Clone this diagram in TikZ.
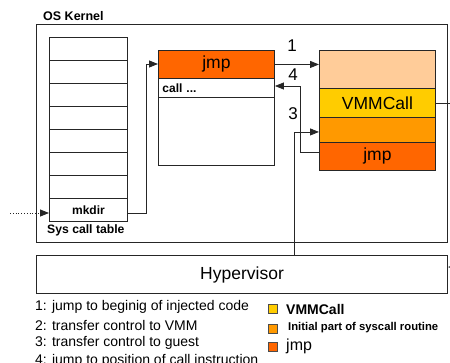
\documentclass[tikz,border=0pt]{standalone}
\usepackage{fontspec}
\setmainfont{Liberation Sans}
\usetikzlibrary{arrows.meta}
\definecolor{cpeach}{HTML}{FFCC99}
\definecolor{cyel}{HTML}{FFCC00}
\definecolor{corg}{HTML}{FF9900}
\definecolor{cred}{HTML}{FF6600}
\tikzset{
  bigbox/.style={draw=black!85, line width=1.1pt, anchor=north west, inner sep=0pt},
  cell/.style={draw=black!85, line width=0.9pt, anchor=north west, inner sep=0pt, minimum width=#1},
  cell/.default=116pt,
  arr/.style={draw=black!85, line width=0.8pt, -{Triangle[length=9pt,width=7pt]}},
  lbl/.style={font=\fontsize{17}{19}\selectfont},
  legtxt/.style={anchor=west, inner sep=0pt, font=\fontsize{14}{16}\selectfont},
  legbox/.style={draw=black!70, line width=0.6pt, minimum width=9pt, minimum height=9pt, inner sep=0pt, anchor=north west}
}
\begin{document}
\begin{tikzpicture}[x=1pt,y=-1pt]
\useasboundingbox (0,0) rectangle (450,362);
% OS kernel
\node[bigbox, minimum width=411pt, minimum height=218pt] (kern) at (36,24) {};
\node[anchor=west, inner sep=0pt, font=\bfseries\fontsize{12.5}{14}\selectfont] (kl) at (43,16) {OS Kernel};
% sys call table
\foreach \i in {0,...,6} {
  \node[cell=78pt, minimum height=23pt] (r\i) at (49,{37+23*\i}) {};
}
\node[cell=78pt, minimum height=23pt, font=\bfseries\fontsize{12}{14}\selectfont] (r7) at (49,198) {mkdir};
\node[anchor=west, inner sep=0pt, font=\bfseries\fontsize{12.2}{14}\selectfont] (sct) at (47,230) {Sys call table};
% middle box
\node[cell, minimum height=28pt, fill=cred, font=\fontsize{17.5}{19}\selectfont] (hj) at (158,50) {jmp};
\node[cell, minimum height=19pt, font=\bfseries\fontsize{12}{14}\selectfont, text width=108pt, align=left] (mc) at (158,78) {call ...};
\node[cell, minimum height=68pt] (mb) at (158,97) {};
% right box
\node[cell, minimum height=38pt, fill=cpeach] (rp) at (319,50) {};
\node[cell, minimum height=29pt, fill=cyel, font=\fontsize{17.5}{19}\selectfont] (rv) at (319,88) {VMMCall};
\node[cell, minimum height=25pt, fill=corg] (ro) at (319,117) {};
\node[cell, minimum height=28pt, fill=cred, font=\fontsize{17.5}{19}\selectfont] (rj) at (319,142) {jmp};
% hypervisor
\node[bigbox, minimum width=411pt, minimum height=38pt, font=\fontsize{17.5}{20}\selectfont] (hyp) at (36,255) {Hypervisor};
% connectors
\coordinate (in0) at (10,213);
\draw[arr, dotted] (in0) -- (in0 -| r7.west);
\draw[arr] ([yshift=-3pt]r7.east) -| (146,64) -- (hj.west |- 0,64);
\draw[arr] (hj.east) -- (hj.east -| rp.west);
\draw[arr] ([yshift=4pt]rj.west) -| (300,86) -- (mc.east |- 0,86);
\coordinate (c3) at (294,0);
\draw[arr] (hyp.north -| c3) |- ([yshift=-2pt]ro.west);
\coordinate (cv) at (456,0);
\draw[arr] (rv.east) -| (cv |- 0,267) -- (hyp.east |- 0,267);
% labels
\node[lbl, inner sep=0pt] (l1) at (292,46) {1};
\node[lbl, inner sep=0pt] (l4) at (293,75) {4};
\node[lbl, inner sep=0pt] (l3) at (293,114) {3};
% legend
\node[legtxt] (t1) at (35,307) {1: jump to beginig of injected code};
\node[legtxt] (t2) at (35,325) {2: transfer control to VMM};
\node[legtxt] (t3) at (35,343) {3: transfer control to guest};
\node[legtxt] (t4) at (35,361) {4: jump to position of call instruction};
\node[legbox, fill=cyel] (k1) at (268,304) {};
\node[legbox, fill=corg] (k2) at (268,324) {};
\node[legbox, fill=cred] (k3) at (268,342) {};
\node[anchor=west, inner sep=0pt, font=\bfseries\fontsize{14}{16}\selectfont] (kt1) at (286,309) {VMMCall};
\node[anchor=west, inner sep=0pt, font=\bfseries\fontsize{11.3}{13}\selectfont] (kt2) at (288,328) {Initial part of syscall routine};
\node[anchor=west, inner sep=0pt, font=\fontsize{16}{18}\selectfont] (kt3) at (286,346) {jmp};
\end{tikzpicture}
\end{document}
